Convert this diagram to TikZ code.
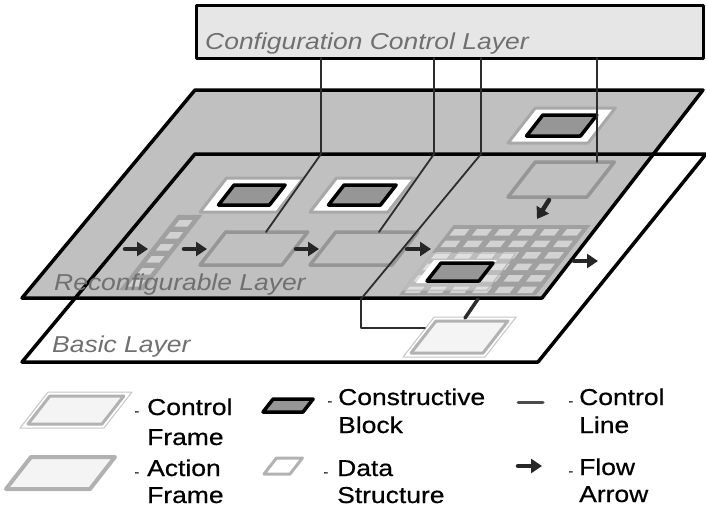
\documentclass[tikz,border=0pt]{standalone}
\usepackage{fontspec}
\setmainfont{Liberation Sans}[FakeStretch=1.15]
\newfontfamily\legendfont{Liberation Sans}[FakeStretch=1.15,FakeBold=0.6]
\usetikzlibrary{arrows.meta}
\definecolor{planegray}{RGB}{192,192,192}
\definecolor{boxgray}{RGB}{230,230,230}
\definecolor{ringgray}{RGB}{168,168,168}
\definecolor{framegray}{RGB}{150,150,150}
\definecolor{blockgray}{RGB}{150,150,150}
\definecolor{gridgray}{RGB}{160,160,160}
\definecolor{cellgray}{RGB}{210,210,210}
\definecolor{labelgray}{RGB}{112,112,112}
\definecolor{paperwhite}{RGB}{244,244,244}
\definecolor{wiregray}{RGB}{45,45,45}
\newcommand{\slab}[4]{({#1},{#2}) -- ++({#3},0) -- ++({0.78*(#4)},{-(#4)}) -- ++({-(#3)},0) -- cycle}
\newcommand{\ctrlframe}[4]{\filldraw[ringframe] \slab{#1}{#2}{#3}{#4};
 \filldraw[conblock] \slab{#1+18.5}{#2-7}{#3-26}{#4-14};}
\newcommand{\lgdash}[1]{\llap{\fontsize{12}{12}\selectfont-\hspace{#1}}}
\tikzset{
 layerline/.style={line width=3.5pt},
 wire/.style={wiregray,line width=1.8pt},
 flowarrow/.style={-{Triangle[length=11pt,width=14pt]},line width=4.5pt,black!85},
 actframe/.style={draw=framegray,line width=3.5pt},
 ringframe/.style={draw=ringgray,fill=white,line width=3pt},
 conblock/.style={draw=black,fill=blockgray,line width=3.5pt},
 layerlabel/.style={labelgray,font=\fontsize{23}{28}\selectfont\itshape,anchor=base west,inner sep=0pt},
 legendtext/.style={font=\legendfont\fontsize{23}{28}\selectfont,anchor=base west,inner sep=0pt},
}
\begin{document}
\begin{tikzpicture}[x=1pt,y=-1pt,>=Stealth,line cap=round,line join=round]
 \useasboundingbox (0,0) rectangle (706,507);
 \coordinate (r1) at (22,298); \coordinate (r2) at (542,298);
 \coordinate (r3) at (703,90); \coordinate (r4) at (195,90);
 \coordinate (b1) at (22,362); \coordinate (b2) at (538,362);
 \coordinate (b3) at (706,154); \coordinate (b4) at (195,154);
 \fill[white] (b1)--(b2)--(b3)--(b4)--cycle;
 \fill[planegray] (r1)--(r2)--(r3)--(r4)--cycle;
 \draw[layerline] (b1)--(b2)--(b3)--(b4)--cycle;
 \draw[layerline] (r1)--(r2)--(r3)--(r4)--cycle;
 \filldraw[boxgray,draw=black,line width=3pt] (196,5) rectangle (703,58);
 % data columns and array
 \filldraw[gridgray] \slab{119.5}{290}{24}{75};
 \foreach \k in {0,...,5}{
  \pgfmathsetmacro\cy{226.5+12*\k}
  \pgfmathsetmacro\cx{119.5+0.78*(290-\cy)+5.5}
  \fill[cellgray] \slab{\cx}{\cy}{13}{6.5};}
 \fill[gridgray] \slab{399}{295}{137}{70};
 \foreach \r in {0,...,5}{
  \foreach \c in {0,...,5}{
   \pgfmathsetmacro\cy{235.5+11.5*\r}
   \pgfmathsetmacro\cx{399+0.78*(295-\cy)+4+22.5*\c}
   \fill[cellgray] \slab{\cx}{\cy}{15}{6.5};}}
 \draw[actframe] \slab{200}{265}{82}{33};
 \draw[actframe] \slab{310}{265}{82}{33};
 \draw[actframe] \slab{508}{197}{79}{35};
 \ctrlframe{200}{212}{77}{34}
 \ctrlframe{310}{212}{78}{34}
 \ctrlframe{508}{143}{80}{35}
 \filldraw[draw=gray!55,fill=white,fill opacity=.3,line width=1pt] \slab{403}{290}{84}{37};
 \fill[white] \slab{416}{283}{63}{23};
 \filldraw[conblock] \slab{427}{281}{52}{18};
 \filldraw[draw=gray!45,fill=white,line width=1pt] \slab{403}{357}{82}{40};
 \filldraw[draw=gray!60,fill=paperwhite,line width=3pt] \slab{411}{353}{72}{32};
 % control lines
 \coordinate (cfgA) at (321,58); \coordinate (bendA) at (321,154); \coordinate (actA) at (266,232);
 \coordinate (cfgB) at (434,58); \coordinate (bendB) at (434,154); \coordinate (actB) at (379,232);
 \coordinate (cfgC) at (481,58); \coordinate (bendC) at (481,154);
 \coordinate (edgeC) at (361,299); \coordinate (dropC) at (361,328); \coordinate (ctrlC) at (425,328);
 \coordinate (cfgD) at (597,58); \coordinate (actD) at (597,162);
 \coordinate (arrC) at (478,299); \coordinate (basC) at (465,318);
 \draw[wire] (cfgA) -- (bendA) -- (actA);
 \draw[wire] (cfgB) -- (bendB) -- (actB);
 \draw[wire] (cfgC) -- (bendC) -- (edgeC) -- (dropC) -- (ctrlC);
 \draw[wire] (cfgD) -- (actD);
 \draw[wiregray,line width=3.5pt] (arrC) -- (basC);
 % flow
 \draw[flowarrow] (125,249) -- (148,249);
 \draw[flowarrow] (184,249) -- (207,249);
 \draw[flowarrow] (296,249) -- (319,249);
 \draw[flowarrow] (407,249) -- (431,249);
 \draw[flowarrow] (574,261) -- (598,261);
 \draw[flowarrow] (549,200) -- (537,219);
 \node[layerlabel] (cfglabel) at (205,49) {Configuration Control Layer};
 \node[layerlabel] (reclabel) at (54,290) {Reconfigurable Layer};
 \node[layerlabel] (baslabel) at (52,352) {Basic Layer};
 % legend
 \filldraw[draw=gray!45,fill=white,line width=1pt] \slab{20}{428}{84}{36};
 \filldraw[draw=gray!60,fill=paperwhite,line width=3pt] \slab{28}{424}{74}{28};
 \filldraw[draw=ringgray!90,fill=paperwhite,line width=4pt] \slab{6}{489}{84}{32};
 \filldraw[conblock] \slab{263}{412}{40}{13};
 \filldraw[draw=gray!60,fill=white,line width=3pt] \slab{264}{474}{26}{16};
 \draw[wiregray!85,line width=3pt] (518,402) -- (543,402);
 \draw[flowarrow] (518,466) -- (542,466);
 \node[legendtext] (lgctrl) at (147,415) {\lgdash{8pt}Control};
 \node[legendtext] (lgctrlb) at (147,445) {Frame};
 \node[legendtext] (lgact) at (147,476) {\lgdash{8pt}Action};
 \node[legendtext] (lgactb) at (147,503) {Frame};
 \node[legendtext] (lgcon) at (338,405) {\lgdash{6pt}Constructive};
 \node[legendtext] (lgconb) at (338,433) {Block};
 \node[legendtext] (lgdat) at (337,476) {\lgdash{9pt}Data};
 \node[legendtext] (lgdatb) at (337,503) {Structure};
 \node[legendtext] (lgline) at (579,405) {\lgdash{6pt}Control};
 \node[legendtext] (lglineb) at (579,433) {Line};
 \node[legendtext] (lgflow) at (579,475) {\lgdash{6pt}Flow};
 \node[legendtext] (lgflowb) at (579,502) {Arrow};
\end{tikzpicture}
\end{document}
